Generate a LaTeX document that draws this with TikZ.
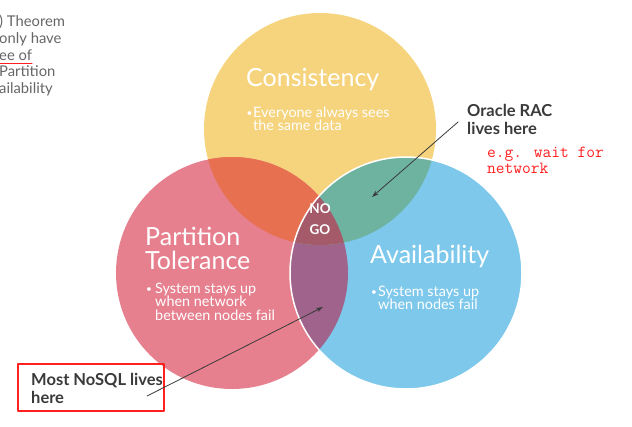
\documentclass[tikz,border=0pt]{standalone}
\usepackage{fontspec}
\setmainfont{Lato}
\usetikzlibrary{arrows.meta}

\definecolor{capyellow}{HTML}{F6D47E}
\definecolor{capred}{HTML}{E6808E}
\definecolor{capblue}{HTML}{7DC8EB}
\definecolor{caporange}{HTML}{E67050}
\definecolor{capteal}{HTML}{6EB2A0}
\definecolor{cappurple}{HTML}{A0648C}
\definecolor{capcore}{HTML}{A55A69}
\definecolor{capgray}{HTML}{3A3A3A}
\definecolor{capnote}{HTML}{FF2020}

\tikzset{
  title/.style={anchor=base west, inner sep=0pt, text=white, font=\fontsize{25}{22}\selectfont},
  dot/.style={anchor=base west, inner sep=0pt, text=white, font=\fontsize{10}{12}\selectfont},
  body/.style={anchor=north west, inner sep=0pt, align=left, text=white, font=\fontsize{14.4}{13.6}\selectfont},
  callout/.style={anchor=north west, inner sep=0pt, align=left, text=capgray, font=\bfseries\fontsize{16.5}{18}\selectfont},
  pointer/.style={capgray, line width=0.8pt, -{Stealth[length=7pt,width=4.5pt]}}
}

\begin{document}
\begin{tikzpicture}[x=1pt,y=-1pt, line cap=round, line join=round]
    \useasboundingbox (0,0) rectangle (632,426);
    \def\rad{116pt}
    \coordinate (C) at (320,129);
    \coordinate (P) at (232,273);
    \coordinate (A) at (406,273);

    % Circles
    \fill[capyellow] (C) circle (\rad);
    \fill[capred] (P) circle (\rad);
    \fill[capblue] (A) circle (\rad);

    % Overlaps
    \begin{scope}
        \clip (P) circle (\rad);
        \fill[cappurple] (A) circle (\rad);
    \end{scope}
    \begin{scope}
        \clip (C) circle (\rad);
        \fill[caporange] (P) circle (\rad);
        \fill[capteal] (A) circle (\rad);
        \clip (P) circle (\rad);
        \fill[capcore] (A) circle (\rad);
    \end{scope}
    \draw[white, line width=1.5pt] (A) circle (\rad);

    % Circle texts
    \node[title] (cons) at (246,86) {Consistency};
    \node[dot] (consdot) at (246.5,116) {\textbullet};
    \node[body] (constext) at (253,106.5) {Everyone always sees\\the same data};

    \node[title] (part) at (145,245) {Partition};
    \node[title] (tol) at (145,269) {Tolerance};
    \node[dot] (partdot) at (146,292) {\textbullet};
    \node[body] (parttext) at (155,282.5) {System stays up\\when network\\between nodes fail};

    \node[title] (avail) at (370,263) {Availability};
    \node[dot] (availdot) at (371,295) {\textbullet};
    \node[body] (availtext) at (378,285.5) {System stays up\\when nodes fail};

    \node[text=white, align=center, inner sep=0pt, font=\bfseries\fontsize{13.5}{21}\selectfont] (nogo) at (320,219) {NO\\GO};

    % Side notes
    \node[anchor=north west, inner sep=0pt, align=left, text=black!60, font=\fontsize{14.8}{16.7}\selectfont] (theorem) at (-1,15) {) Theorem\\only have\\ee of\\Partition\\ailability};
    \draw[capnote, line width=1pt] (0,63.5) -- (32,63.5);

    \node[callout] (oracle) at (467,104) {Oracle RAC\\lives here};
    \node[anchor=north west, inner sep=0pt, align=left, text=capnote, font=\ttfamily\fontsize{17}{16}\selectfont] (waitnote) at (487,147) {e.g. wait for\\network};

    \node[callout] (nosql) at (31,373) {Most NoSQL lives\\here};
    \draw[capnote, line width=1.2pt] (18,364) rectangle (164,411);

    % Pointers
    \coordinate (racfrom) at (458,122);
    \coordinate (racspot) at (372,197);
    \coordinate (nosqlfrom) at (147,396);
    \coordinate (nosqlspot) at (323,307);
    \draw[pointer] (racfrom) -- (racspot);
    \draw[pointer] (nosqlfrom) -- (nosqlspot);
\end{tikzpicture}
\end{document}
